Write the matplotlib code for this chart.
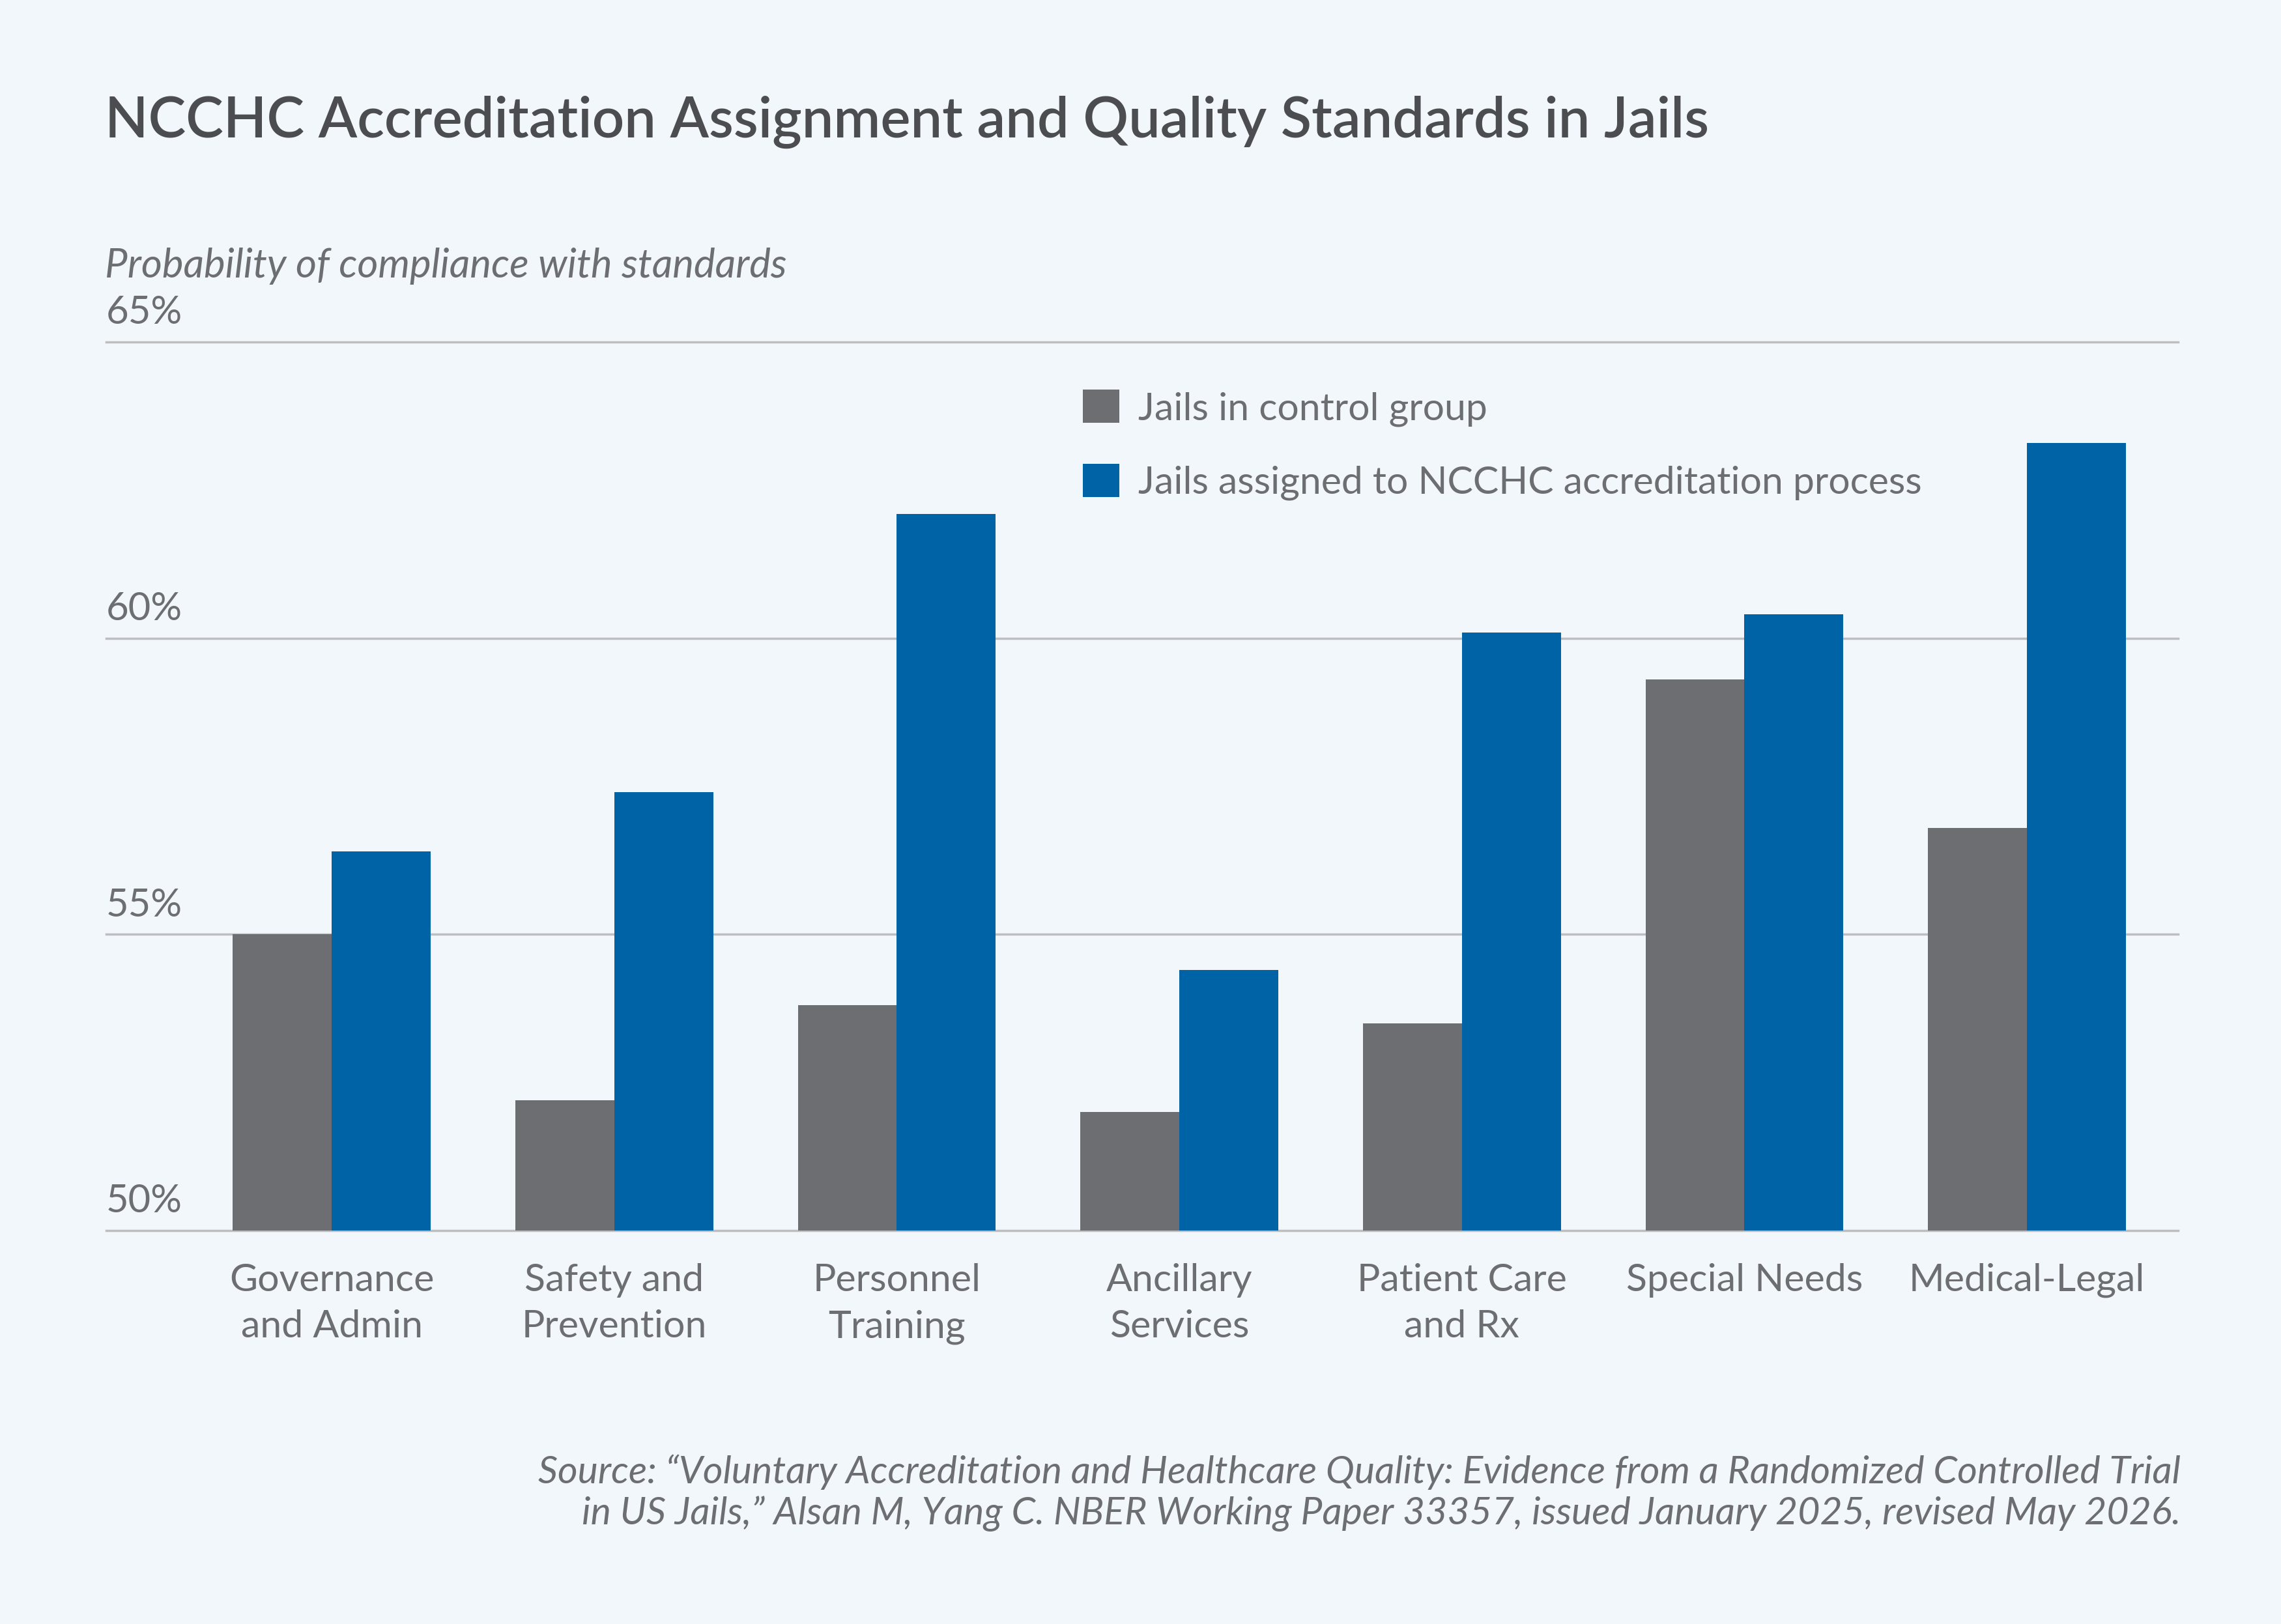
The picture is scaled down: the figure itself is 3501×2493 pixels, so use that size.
import matplotlib
matplotlib.use('Agg')
import matplotlib.pyplot as plt
import matplotlib.transforms as mtransforms
import numpy as np

# data
categories = ['Governance\nand Admin', 'Safety and\nPrevention', 'Personnel\nTraining',
              'Ancillary\nServices', 'Patient Care\nand Rx', 'Special Needs', 'Medical-Legal']
control = [55.0, 52.2, 53.8, 52.0, 53.5, 59.3, 56.8]
accredited = [56.4, 57.4, 62.1, 54.4, 60.1, 60.4, 63.3]
series_names = ['Jails in control group', 'Jails assigned to NCCHC accreditation process']
y_ticks = [50, 55, 60, 65]

BG = '#f2f7fb'
GRAY = '#6d6e71'
BLUE = '#0063a6'
GRID = '#bcbec0'
TXT = '#6d6e71'
TITLE = '#4b4d50'

plt.rcParams['font.family'] = ['Lato', 'DejaVu Sans']

fig = plt.figure(figsize=(35.01, 24.93), dpi=100, facecolor=BG)
ax = fig.add_axes([0.0466, 0.2423, 0.9084, 0.5471])
ax.set_facecolor(BG)

x = np.arange(len(categories))
w = 0.35
ax.bar(x - w / 2, control, width=w, color=GRAY, label=series_names[0], zorder=3)
ax.bar(x + w / 2, accredited, width=w, color=BLUE, label=series_names[1], zorder=3)

ax.set_ylim(50, 65)
ax.set_xlim(-0.798, 6.536)

# gridlines
for v in y_ticks:
    ax.axhline(v, color=GRID, lw=2.5, zorder=1, clip_on=False)
ax.set_yticks([])
for s in ax.spines.values():
    s.set_visible(False)

# y tick labels sit above the lines
trans = mtransforms.blended_transform_factory(ax.transAxes, ax.transData)
for v in y_ticks:
    ax.annotate('%d%%' % v, xy=(0, v), xycoords=trans, xytext=(0, 20),
                textcoords='offset points', ha='left', va='baseline',
                fontsize=43, color=TXT)

ax.set_xticks(x)
ax.set_xticklabels(categories, fontsize=42.5, color=TXT, linespacing=1.42)
ax.tick_params(axis='x', length=0, pad=36)

leg = ax.legend(loc='upper left', bbox_to_anchor=(0.4545, 0.985), frameon=False,
                fontsize=42.4, handlelength=0.95, handleheight=0.95, handletextpad=0.5,
                labelspacing=0.98, labelcolor=TXT)

fig.text(0.046, 0.941, 'NCCHC Accreditation Assignment and Quality Standards in Jails',
         fontsize=62.5, fontweight='semibold', color=TITLE, ha='left', va='top')
fig.text(0.046, 0.836, 'Probability of compliance with standards', fontsize=44.5,
         style='italic', color=TXT, ha='left', va='center')
fig.text(0.956, 0.0808,
         'Source: \u201cVoluntary Accreditation and Healthcare Quality: Evidence from a Randomized Controlled Trial\n'
         'in US Jails,\u201d Alsan M, Yang C. NBER Working Paper 33357, issued January 2025, revised May 2026.',
         fontsize=42.5, style='italic', color=TXT, ha='right', va='center', linespacing=1.2,
         multialignment='right')

fig.savefig('out.png', dpi=100, facecolor=BG)
